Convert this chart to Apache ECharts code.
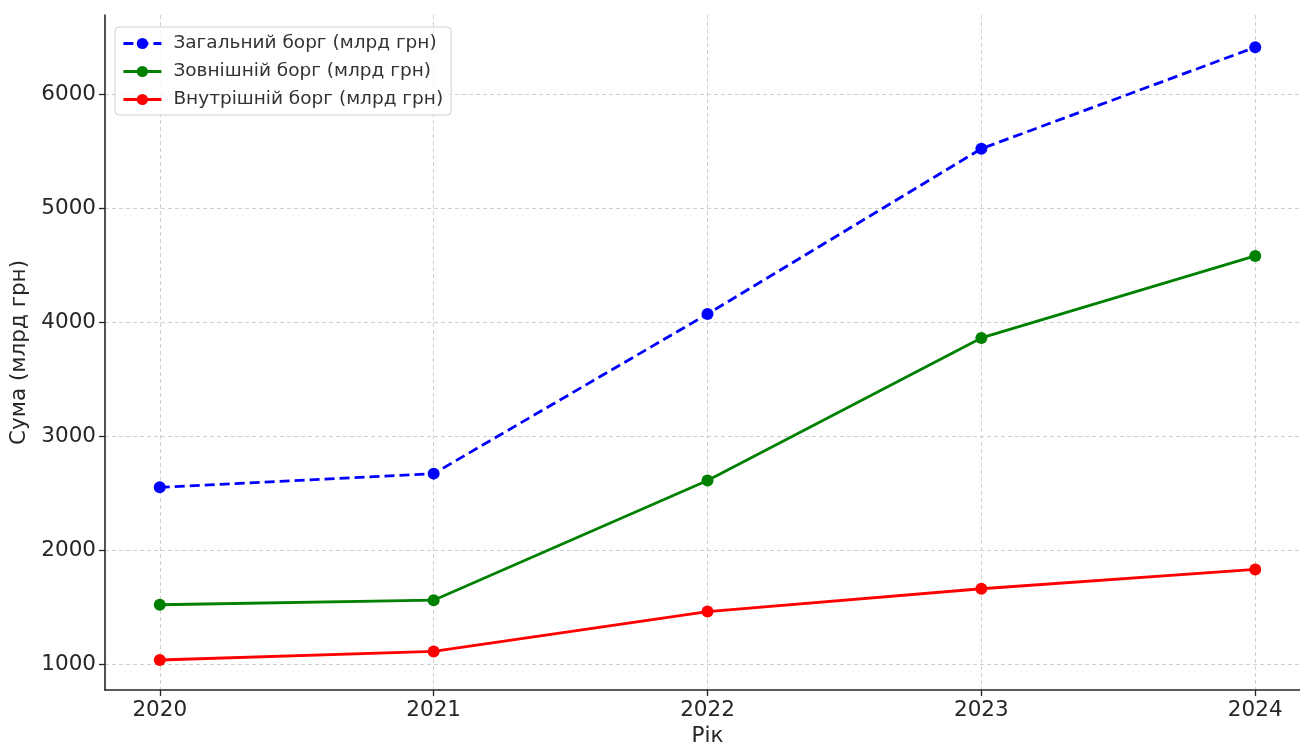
<!DOCTYPE html>
<html>
<head>
<meta charset="utf-8">
<script src="https://cdn.jsdelivr.net/npm/echarts@6/dist/echarts.min.js"></script>
<style>
  html, body { margin: 0; padding: 0; background: #ffffff; overflow: hidden; }
  #chart { width: 1300px; height: 745px; }
</style>
</head>
<body>
<div id="chart"></div>
<script>
// Державний борг України за роками, млрд грн
const years = [2020, 2021, 2022, 2023, 2024];
const totalDebt = [2550, 2670, 4070, 5520, 6410];
const externalDebt = [1520, 1560, 2610, 3860, 4580];
const domesticDebt = [1035, 1110, 1460, 1660, 1830];
const yTicks = [1000, 2000, 3000, 4000, 5000, 6000];

const seriesNames = [
  'Загальний борг (млрд грн)',
  'Зовнішній борг (млрд грн)',
  'Внутрішній борг (млрд грн)'
];

const pairs = (vals) => years.map((y, i) => [y, vals[i]]);

const FONT = 'DejaVu Sans';
const TEXT = '#262626';

const chart = echarts.init(document.getElementById('chart'), null, { renderer: 'canvas' });

function makeSeries(name, vals, color, dashed) {
  return {
    name: name,
    type: 'line',
    data: pairs(vals),
    symbol: 'circle',
    symbolSize: 12,
    showSymbol: true,
    animation: false,
    itemStyle: { color: color },
    lineStyle: { color: color, width: 2.8, type: dashed ? [10, 5] : 'solid' },
    emphasis: { disabled: true }
  };
}

chart.setOption({
  backgroundColor: '#ffffff',
  animation: false,
  textStyle: { fontFamily: FONT },
  grid: { left: 105, right: -10, top: 15, bottom: 55, containLabel: false, outerBoundsMode: 'none' },
  legend: {
    orient: 'vertical',
    left: 115,
    top: 27,
    padding: [7, 8, 6, 7],
    itemGap: 9,
    itemWidth: 38,
    itemHeight: 14,
    backgroundColor: 'rgba(255,255,255,0.8)',
    borderColor: '#d0d0d0',
    borderWidth: 1,
    borderRadius: 4,
    lineStyle: { width: 2.8 },
    textStyle: { fontFamily: FONT, fontSize: 18.5, color: '#333333', padding: [0, 0, 0, 7] },
    data: seriesNames
  },
  xAxis: {
    type: 'value',
    min: 2019.8,
    max: 2024.2,
    name: 'Рік',
    nameLocation: 'middle',
    nameGap: 33,
    nameTextStyle: { fontFamily: FONT, fontSize: 21.5, color: TEXT },
    axisLine: { show: true, onZero: false, lineStyle: { color: TEXT, width: 1.6 } },
    axisTick: { show: true, length: 6, customValues: years, lineStyle: { color: TEXT, width: 1.3 } },
    axisLabel: { customValues: years, fontFamily: FONT, fontSize: 21.5, color: TEXT, margin: 9,
                 formatter: (v) => String(v) },
    splitLine: { show: true, lineStyle: { color: '#d0d0d0', type: [4, 3], width: 1 } }
  },
  yAxis: {
    type: 'value',
    min: 772,
    max: 6693,
    name: 'Сума (млрд грн)',
    nameLocation: 'middle',
    nameGap: 70,
    nameRotate: 90,
    nameTextStyle: { fontFamily: FONT, fontSize: 21.5, color: TEXT },
    axisLine: { show: true, lineStyle: { color: TEXT, width: 1.6 } },
    axisTick: { show: true, length: 6, customValues: yTicks, lineStyle: { color: TEXT, width: 1.3 } },
    axisLabel: { customValues: yTicks, fontFamily: FONT, fontSize: 21.5, color: TEXT, margin: 9,
                 formatter: (v) => String(v) },
    splitLine: { show: true, lineStyle: { color: '#d0d0d0', type: [4, 3], width: 1 } }
  },
  series: [
    makeSeries(seriesNames[0], totalDebt, '#0000ff', true),
    makeSeries(seriesNames[1], externalDebt, '#008000', false),
    makeSeries(seriesNames[2], domesticDebt, '#ff0000', false)
  ]
});
</script>
</body>
</html>
